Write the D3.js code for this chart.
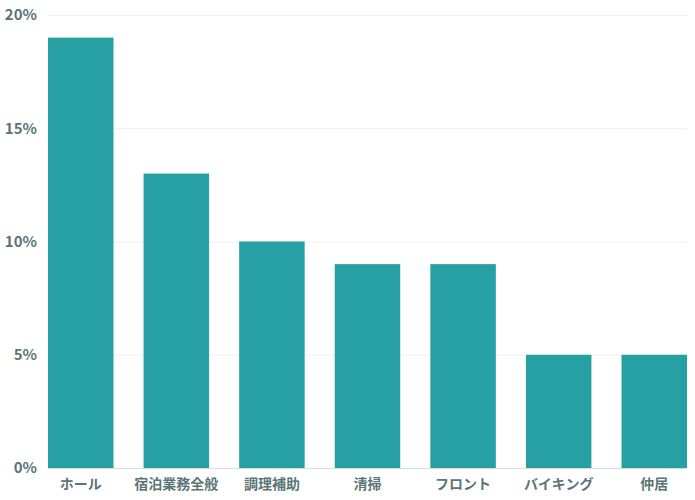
<!DOCTYPE html>
<html>
<head>
<meta charset="utf-8">
<script src="https://cdn.jsdelivr.net/npm/d3@7"></script>
<style>
  body { margin: 0; background: #fff; }
  text { font-family: "Noto Sans CJK JP", "Noto Sans", sans-serif; }
</style>
</head>
<body>
<div id="chart"></div>
<script>
// job categories and their share (%)
var categories = ["ホール", "宿泊業務全般", "調理補助", "清掃", "フロント", "バイキング", "仲居"];
var values = [19, 13, 10, 9, 9, 5, 5];
var yTicks = [0, 5, 10, 15, 20];

var width = 695, height = 500;
var margin = { top: 15, right: 8, bottom: 32, left: 48 };

var svg = d3.select("#chart").append("svg")
    .attr("width", width)
    .attr("height", height);

var x = d3.scaleBand()
    .domain(categories)
    .range([margin.left, width - margin.right])
    .paddingInner(0.315)
    .paddingOuter(0);

var y = d3.scaleLinear()
    .domain([0, 20])
    .range([height - margin.bottom, margin.top]);

// gridlines
svg.append("g")
    .selectAll("line")
    .data(yTicks.filter(function (d) { return d > 0; }))
    .enter().append("line")
    .attr("x1", margin.left)
    .attr("x2", width - margin.right)
    .attr("y1", function (d) { return y(d) + 0.5; })
    .attr("y2", function (d) { return y(d) + 0.5; })
    .style("stroke", "#eef1f1")
    .style("stroke-width", 1);

// y tick labels
svg.append("g")
    .selectAll("text")
    .data(yTicks)
    .enter().append("text")
    .attr("x", 37)
    .attr("y", function (d) { return y(d); })
    .attr("dy", "0.36em")
    .attr("text-anchor", "end")
    .text(function (d) { return d + "%"; })
    .style("font-size", "15px")
    .style("font-weight", "600")
    .style("fill", "#5b7576");

// bars
svg.append("g")
    .selectAll("rect")
    .data(values)
    .enter().append("rect")
    .attr("x", function (d, i) { return x(categories[i]); })
    .attr("y", function (d) { return y(d); })
    .attr("width", x.bandwidth())
    .attr("height", function (d) { return y(0) - y(d); })
    .style("fill", "#26a0a2");

// baseline
svg.append("line")
    .attr("x1", margin.left)
    .attr("x2", width - margin.right)
    .attr("y1", y(0) + 0.5)
    .attr("y2", y(0) + 0.5)
    .style("stroke", "#d5dfe2")
    .style("stroke-width", 1);

// category labels
svg.append("g")
    .selectAll("text")
    .data(categories)
    .enter().append("text")
    .attr("x", function (d) { return x(d) + x.bandwidth() / 2; })
    .attr("y", y(0) + 21)
    .attr("text-anchor", "middle")
    .text(function (d) { return d; })
    .style("font-size", "14px")
    .style("font-weight", "bold")
    .style("fill", "#5b7576");
</script>
</body>
</html>
